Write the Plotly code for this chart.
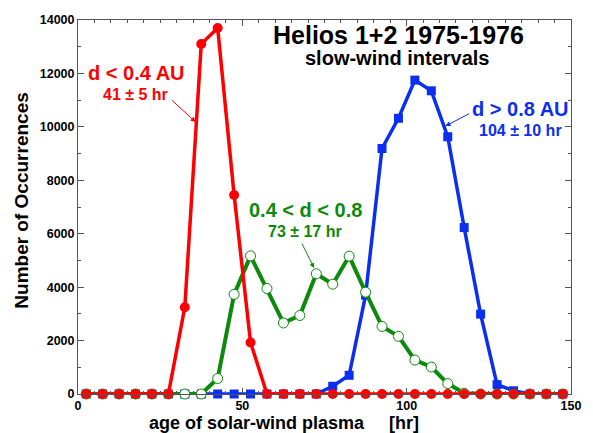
import plotly.graph_objects as go

# ---------------- data ----------------
age_hr = [2.5 + 5 * i for i in range(30)]

near = [0, 0, 0, 0, 0, 0, 3250, 13100, 13700, 7450,
        1930, 0, 0, 0, 0, 0, 0, 0, 0, 0,
        0, 0, 0, 0, 0, 0, 0, 0, 0, 0]          # d < 0.4 AU

mid = [0, 0, 0, 0, 0, 0, 0, 0, 580, 3730,
       5170, 3950, 2660, 2940, 4500, 4110, 5160, 3810, 2530, 2160,
       1270, 1010, 390, 30, 0, 0, 0, 0, 0, 0]   # 0.4 < d < 0.8

far = [0, 0, 0, 0, 0, 0, 0, 0, 0, 0,
       0, 0, 0, 0, 0, 290, 700, 3700, 9190, 10320,
       11750, 11350, 9630, 6230, 2990, 350, 120, 0, 0, 0]  # d > 0.8 AU

x_ticks = [0, 50, 100, 150]
x_labels = ["0", "50", "100", "150"]
y_ticks = [0, 2000, 4000, 6000, 8000, 10000, 12000, 14000]
y_labels = ["0", "2000", "4000", "6000", "8000", "10000", "12000", "14000"]

RED = "#ff0000"
GREEN = "#0b8a0b"
BLUE = "#0a2ff0"
FONT = "Liberation Sans, Arial, sans-serif"

W, H = 593, 433
L, R, T, B = 78, 16, 20, 39
PW, PH = W - L - R, H - T - B


def px(xp):
    return (xp - L) / PW


def py(yp):
    return (H - B - yp) / PH


fig = go.Figure()

fig.add_trace(go.Scatter(
    x=age_hr, y=far, mode="lines+markers", cliponaxis=False,
    line=dict(color=BLUE, width=3.5),
    marker=dict(symbol="square", size=9, color=BLUE, line=dict(width=0)),
    showlegend=False))
fig.add_trace(go.Scatter(
    x=age_hr, y=mid, mode="lines+markers", cliponaxis=False,
    line=dict(color=GREEN, width=4),
    marker=dict(symbol="circle", size=10, color="white",
                line=dict(color=GREEN, width=1)),
    showlegend=False))
fig.add_trace(go.Scatter(
    x=age_hr, y=near, mode="lines+markers", cliponaxis=False,
    line=dict(color=RED, width=3.5),
    marker=dict(symbol="circle", size=10, color=RED, line=dict(width=0)),
    showlegend=False))

ann = []


def text(s, xp, yp, size, color):
    ann.append(dict(text=s, x=px(xp), y=py(yp), xref="paper", yref="paper",
                    showarrow=False, xanchor="center", yanchor="middle",
                    font=dict(family=FONT, size=size, color=color, weight="bold")))


def arrow(x_head, y_head, x_tail, y_tail, color):
    ann.append(dict(text="", x=px(x_head), y=py(y_head), xref="paper", yref="paper",
                    ax=x_tail - x_head, ay=y_tail - y_head, showarrow=True,
                    arrowhead=2, arrowsize=1, arrowwidth=1, arrowcolor=color,
                    standoff=0, startstandoff=0))


text("Helios 1+2 1975-1976", 402, 35, 25, "black")
text("slow-wind intervals", 401, 58, 20, "black")
text("d &lt; 0.4 AU", 137, 73, 20, RED)
text("41 ± 5 hr", 136, 94, 16, RED)
text("0.4 &lt; d &lt; 0.8", 308, 210, 20, GREEN)
text("73 ± 17 hr", 308, 231, 16, GREEN)
text("d &gt; 0.8 AU", 526, 109, 20, BLUE)
text("104 ± 10 hr", 526, 130, 16, BLUE)
arrow(197, 122, 172, 99, RED)
arrow(317, 268, 304, 242, GREEN)
arrow(450, 126, 475, 113, BLUE)
text("age of solar-wind plasma" + "\u00a0" * 5 + "[hr]", 287, 423, 18, "black")
ann.append(dict(text="Number of Occurrences", x=px(20), y=py(201),
                xref="paper", yref="paper", showarrow=False, textangle=-90,
                xanchor="center", yanchor="middle",
                font=dict(family=FONT, size=19, color="black", weight="bold")))

axis_common = dict(showline=True, linecolor="#555555", linewidth=1, mirror="allticks",
                   ticks="inside", ticklen=6, tickcolor="#555555", showgrid=False,
                   zeroline=False,
                   tickfont=dict(family=FONT, size=12.5, color="black", weight="bold"))

fig.update_layout(
    width=W, height=H,
    margin=dict(l=L, r=R, t=T, b=B),
    paper_bgcolor="white", plot_bgcolor="white",
    annotations=ann,
    xaxis=dict(range=[0, 150], tickvals=x_ticks, ticktext=x_labels, ticklabelstandoff=0,
               minor=dict(dtick=5, ticks="inside", ticklen=3, tickcolor="#555555"),
               **axis_common),
    yaxis=dict(range=[0, 14000], tickvals=y_ticks, ticktext=y_labels,
               minor=dict(dtick=1000, ticks="inside", ticklen=3, tickcolor="#555555"),
               **axis_common),
)

fig.write_html("out.html")
